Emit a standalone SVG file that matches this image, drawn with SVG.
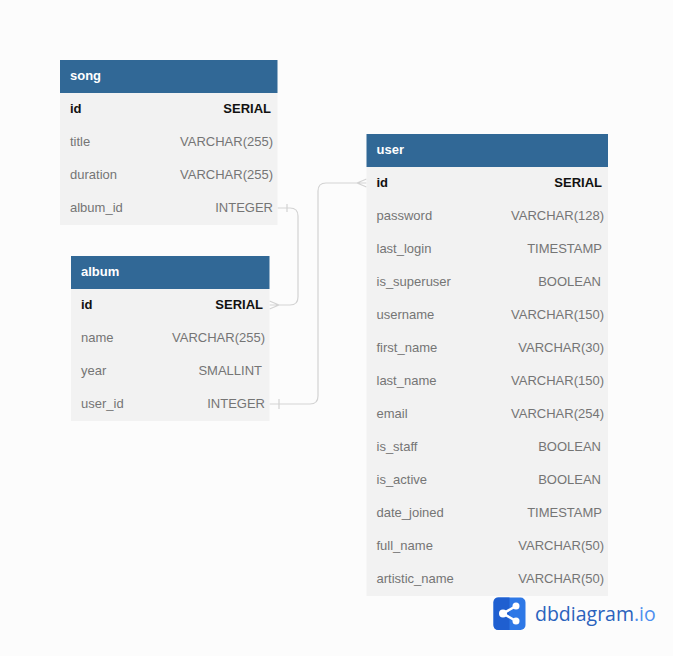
<svg xmlns="http://www.w3.org/2000/svg" width="673" height="656" viewBox="0 0 673 656">
<style>
text{font-family:"Liberation Sans",Arial,sans-serif;font-size:13px}
.hd{fill:#316896}
.bd{fill:#f2f2f2}
.ttl{fill:#fff;font-weight:700}
.n{fill:#757575}
.t{fill:#757575;text-anchor:end}
.pk{fill:#111;font-weight:700}
.pkt{fill:#111;font-weight:700;text-anchor:end}
.c{fill:none;stroke:#d3d3d3;stroke-width:1.200}
</style>
<rect width="673" height="656" fill="#fcfcfc"/>
<g id="connectors">
<path class="c" d="M277.500 208H290Q298 208 298 216V297Q298 305 290 305H269.500M287 204V212M279 305L269.500 301M279 305L269.500 309"/>
<path class="c" d="M269.500 404H310Q318 404 318 396V191Q318 183 326 183H366.500M279 399V409M357 183L366.500 179M357 183L366.500 187"/>
</g>
<g id="song">
<rect class="bd" x="60" y="93" width="217.500" height="132"/>
<rect class="hd" x="60" y="60" width="217.500" height="33"/>
<text class="ttl" x="70" y="80">song</text>
<text class="pk" x="70" y="113">id</text><text class="pkt" x="271" y="113">SERIAL</text>
<text class="n" x="70" y="146">title</text><text class="t" x="273" y="146">VARCHAR(255)</text>
<text class="n" x="70" y="179">duration</text><text class="t" x="273" y="179">VARCHAR(255)</text>
<text class="n" x="70" y="212">album_id</text><text class="t" x="273" y="212">INTEGER</text>
</g>
<g id="album">
<rect class="bd" x="71" y="289" width="198.500" height="132"/>
<rect class="hd" x="71" y="256" width="198.500" height="33"/>
<text class="ttl" x="81" y="276">album</text>
<text class="pk" x="81" y="309">id</text><text class="pkt" x="263" y="309">SERIAL</text>
<text class="n" x="81" y="342">name</text><text class="t" x="265" y="342">VARCHAR(255)</text>
<text class="n" x="81" y="375">year</text><text class="t" x="262" y="375">SMALLINT</text>
<text class="n" x="81" y="408">user_id</text><text class="t" x="265" y="408">INTEGER</text>
</g>
<g id="user">
<rect class="bd" x="366.500" y="167" width="241.500" height="429"/>
<rect class="hd" x="366.500" y="134" width="241.500" height="33"/>
<text class="ttl" x="376.500" y="154">user</text>
<text class="pk" x="376.500" y="187">id</text><text class="pkt" x="602" y="187">SERIAL</text>
<text class="n" x="376.500" y="220">password</text><text class="t" x="604" y="220">VARCHAR(128)</text>
<text class="n" x="376.500" y="253">last_login</text><text class="t" x="602" y="253">TIMESTAMP</text>
<text class="n" x="376.500" y="286">is_superuser</text><text class="t" x="601" y="286">BOOLEAN</text>
<text class="n" x="376.500" y="319">username</text><text class="t" x="604" y="319">VARCHAR(150)</text>
<text class="n" x="376.500" y="352">first_name</text><text class="t" x="604" y="352">VARCHAR(30)</text>
<text class="n" x="376.500" y="385">last_name</text><text class="t" x="604" y="385">VARCHAR(150)</text>
<text class="n" x="376.500" y="418">email</text><text class="t" x="604" y="418">VARCHAR(254)</text>
<text class="n" x="376.500" y="451">is_staff</text><text class="t" x="601" y="451">BOOLEAN</text>
<text class="n" x="376.500" y="484">is_active</text><text class="t" x="601" y="484">BOOLEAN</text>
<text class="n" x="376.500" y="517">date_joined</text><text class="t" x="602" y="517">TIMESTAMP</text>
<text class="n" x="376.500" y="550">full_name</text><text class="t" x="604" y="550">VARCHAR(50)</text>
<text class="n" x="376.500" y="583">artistic_name</text><text class="t" x="604" y="583">VARCHAR(50)</text>
</g>
<g id="logo">
<rect x="493.500" y="597.500" width="32" height="32.500" rx="5" fill="#2e78e6"/>
<path d="M498.500 597.500H509.500V630H498.500Q493.500 630 493.500 625V602.500Q493.500 597.500 498.500 597.500Z" fill="#1f5fd0"/>
<path d="M516 606L503 613.500L516 621" fill="none" stroke="#fff" stroke-width="2.500"/>
<circle cx="516" cy="606" r="3.500" fill="#fff"/><circle cx="503" cy="613.500" r="4" fill="#fff"/><circle cx="516" cy="621" r="3.500" fill="#fff"/>
<text x="535" y="620.500" style="font-family:'Open Sans',Roboto,sans-serif;font-size:19.500px" fill="#2a62bd">dbdiagram<tspan fill="#4d8fef">.io</tspan></text>
</g>
</svg>
